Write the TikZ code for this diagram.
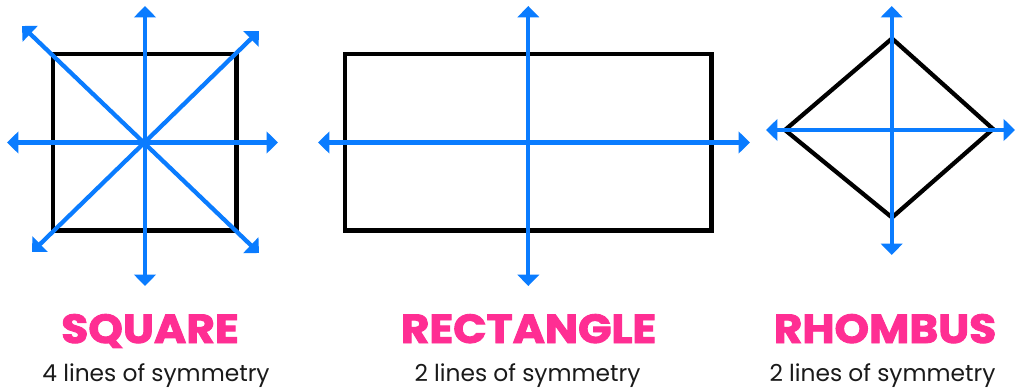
\documentclass[tikz,border=0pt]{standalone}
\usepackage{fontspec}
\setmainfont{Poppins}[BoldFeatures={FakeBold=2.2}]
\usetikzlibrary{arrows.meta}
\definecolor{symblue}{HTML}{0A7CFF}
\definecolor{titlepink}{HTML}{FF2E93}
\definecolor{subblack}{HTML}{1A1A1A}
\newcommand{\widetitle}[1]{\scalebox{1.08}[1]{#1}}
\begin{document}
\begin{tikzpicture}[x=0.75pt,y=-0.75pt,
  shapeline/.style={draw=black,line width=3.7pt,miter limit=10,line join=miter},
  symline/.style={draw=symblue,line width=3.2pt,{Triangle[width=16pt,length=8.5pt]}-{Triangle[width=16pt,length=8.5pt]}},
  titletext/.style={text=titlepink,font=\bfseries\fontsize{30.5}{30}\selectfont,anchor=base,inner sep=0pt},
  subtext/.style={text=subblack,font=\fontsize{17.5}{17}\selectfont,anchor=base,inner sep=0pt}]
\useasboundingbox (0,0) rectangle (1016,389);
\fill[white] (0,0) rectangle (1016,389);
% ---------- square ----------
\coordinate (sqA) at (53,54);
\coordinate (sqB) at (236.5,230.5);
\draw[shapeline] (sqA) rectangle (sqB);
\coordinate (sqT) at (145,6);
\coordinate (sqBt) at (145,286);
\coordinate (sqL) at (7,142.5);
\coordinate (sqR) at (278,142.5);
\coordinate (sqUL) at (22,26);
\coordinate (sqLR) at (259,253);
\coordinate (sqUR) at (259,31);
\coordinate (sqLL) at (32,252);
\draw[symline] (sqT) -- (sqBt);
\draw[symline] (sqL) -- (sqR);
\draw[symline] (sqUL) -- (sqLR);
\draw[symline] (sqUR) -- (sqLL);
% ---------- rectangle ----------
\coordinate (reA) at (345,54);
\coordinate (reB) at (711.5,230.5);
\draw[shapeline] (reA) rectangle (reB);
\coordinate (reT) at (528.3,6);
\coordinate (reBt) at (528.3,286);
\coordinate (reL) at (318,142.5);
\coordinate (reR) at (750,142.5);
\draw[symline] (reT) -- (reBt);
\draw[symline] (reL) -- (reR);
% ---------- rhombus ----------
\coordinate (rhT) at (892,38.5);
\coordinate (rhR) at (993,129);
\coordinate (rhB) at (892,217.5);
\coordinate (rhL) at (785,130);
\draw[shapeline,line width=3.2pt] (rhT) -- (rhR) -- (rhB) -- (rhL) -- cycle;
\coordinate (rhVT) at (891.7,6);
\coordinate (rhVB) at (891.7,255);
\coordinate (rhHL) at (766,130);
\coordinate (rhHR) at (1015,130);
\draw[symline] (rhVT) -- (rhVB);
\draw[symline] (rhHL) -- (rhHR);
% ---------- labels ----------
\node[titletext] (sqtitle) at (150,343) {\widetitle{SQUARE}};
\node[titletext] (retitle) at (528.5,343) {\widetitle{RECTANGLE}};
\node[titletext] (rhtitle) at (885,343) {\widetitle{RHOMBUS}};
\node[subtext] (sqsub) at (156,381.5) {4 lines of symmetry};
\node[subtext] (resub) at (527.5,381.5) {2 lines of symmetry};
\node[subtext] (rhsub) at (882.5,381.5) {2 lines of symmetry};
\end{tikzpicture}
\end{document}
